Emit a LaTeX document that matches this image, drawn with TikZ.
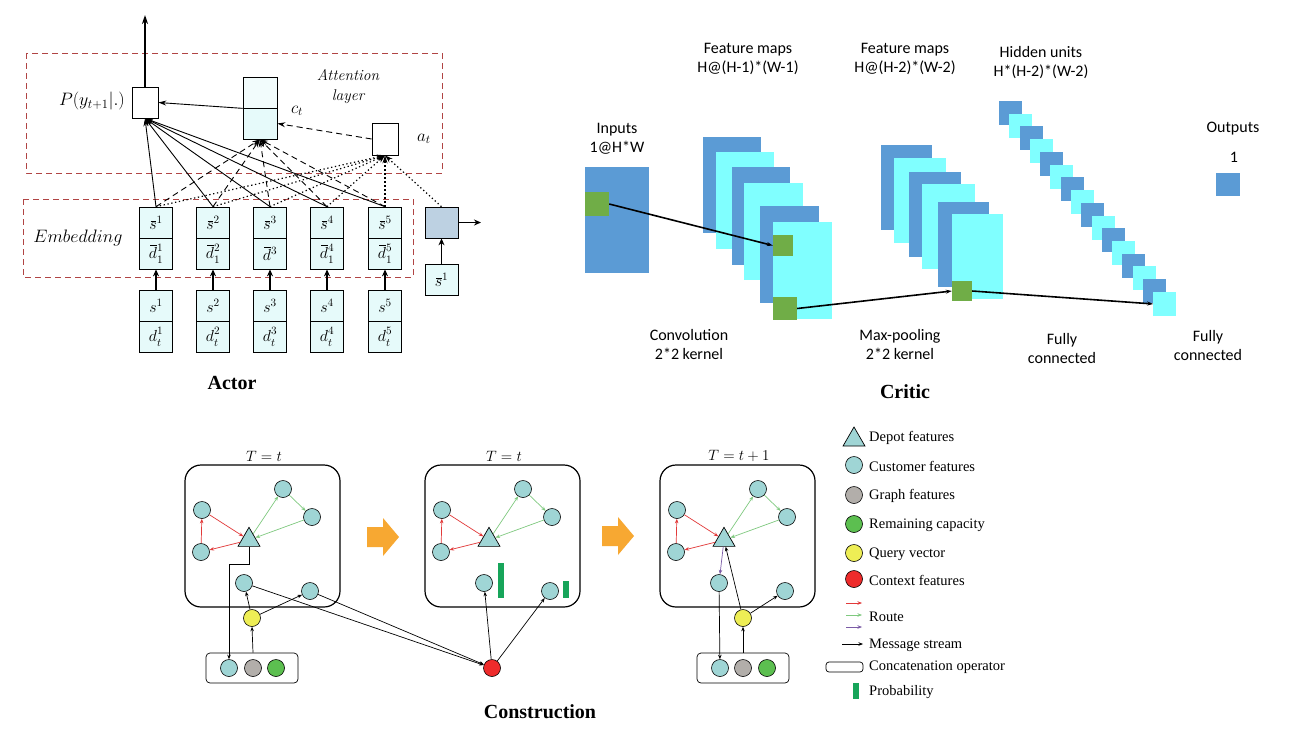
\RequirePackage{fix-cm}
\documentclass[tikz,border=0pt]{standalone}
\usepackage{fontspec}
\usetikzlibrary{arrows.meta,shapes.geometric,calc}
\newfontfamily\carlito{Carlito}
\newfontfamily\libser{Liberation Serif}
\definecolor{boxcyan}{HTML}{E6FAFA}
\definecolor{dred}{HTML}{B04444}
\definecolor{grayblue}{HTML}{BDD1E2}
\definecolor{cblue}{HTML}{5B9BD5}
\definecolor{ccyan}{HTML}{80FFFF}
\definecolor{cgreen}{HTML}{70AD47}
\definecolor{custc}{HTML}{9FD5D5}
\definecolor{graphc}{HTML}{B2AEAA}
\definecolor{remc}{HTML}{5CBF50}
\definecolor{queryc}{HTML}{EEEE55}
\definecolor{ctxc}{HTML}{EE2B2B}
\definecolor{orangec}{HTML}{F7A832}
\definecolor{routered}{HTML}{E23A3A}
\definecolor{routegreen}{HTML}{7FC97F}
\definecolor{routepurple}{HTML}{7B5BA6}
\definecolor{probc}{HTML}{17A55A}
\newcommand{\ob}[1]{\mkern1.5mu\overline{\mkern-1.5mu#1\mkern-0.5mu}\mkern0.5mu}
\newcommand{\supsub}[3]{#1^{\raise1.2pt\hbox{$\scriptstyle #2$}}_{\lower1.2pt\hbox{$\scriptstyle #3$}}}
\tikzset{
  abox/.style={draw, line width=0.7, fill=boxcyan, minimum width=33, minimum height=31, inner sep=0},
  lab/.style={inner sep=0.5, font=\fontsize{16}{18}\selectfont},
  wbox/.style={draw, line width=0.7, fill=white, inner sep=0},
  redbox/.style={draw=dred, line width=0.8, dash pattern=on 6pt off 4pt},
  solidarr/.style={line width=0.9, -{Stealth[length=8pt,width=5pt]}},
  dasharr/.style={line width=0.9, dash pattern=on 6pt off 4pt, -{Stealth[length=8pt,width=5pt]}},
  dotarr/.style={line width=1.2, dash pattern=on 1.3pt off 2.6pt, -{Stealth[length=8pt,width=5pt]}},
  thickarr/.style={line width=1.6, -{Stealth[length=7pt,width=6pt]}},
  critarr/.style={line width=1.6, -{Stealth[length=6pt,width=4pt]}},
  ctext/.style={font=\carlito\fontsize{16}{19}\selectfont, align=center, inner sep=0},
  title/.style={font=\libser\bfseries\fontsize{20}{24}\selectfont, inner sep=0},
  gsq/.style={fill=cgreen, inner sep=0},
  cust/.style={circle, draw, line width=0.6, fill=custc, minimum size=17, inner sep=0},
  graphn/.style={circle, draw, line width=0.6, fill=graphc, minimum size=17, inner sep=0},
  remn/.style={circle, draw, line width=0.6, fill=remc, minimum size=17, inner sep=0},
  queryn/.style={circle, draw, line width=0.6, fill=queryc, minimum size=17, inner sep=0},
  ctxn/.style={circle, draw, line width=0.6, fill=ctxc, minimum size=17, inner sep=0},
  depot/.style={regular polygon, regular polygon sides=3, draw, line width=0.7, fill=custc, minimum size=25.4, inner sep=0},
  panel/.style={draw, line width=1.2, rounded corners=16},
  concat/.style={draw, line width=0.7, rounded corners=4, minimum width=92, minimum height=30, inner sep=0},
  rarr/.style={draw=routered, line width=0.7, -{Stealth[length=4.5pt,width=3.5pt]}},
  garr/.style={draw=routegreen, line width=0.7, -{Stealth[length=4.5pt,width=3.5pt]}},
  parr/.style={draw=routepurple, line width=0.7, -{Stealth[length=4.5pt,width=3.5pt]}},
  msg/.style={draw=black, line width=0.7, -{Stealth[length=4.5pt,width=3.5pt]}},
  legtext/.style={font=\libser\fontsize{14.5}{17}\selectfont, anchor=west, inner sep=0},
}
\newcommand{\panelbase}[4]{%
  \draw[panel] (#2,#3) rectangle ++(155,142);
  \node[font=\fontsize{15}{18}\selectfont] (#1lab) at (#2+79,#3-9) {#4};
  \begin{scope}[shift={(#2,#3)}]
    \node[cust] (#1c1) at (17,45) {};
    \node[cust] (#1c2) at (16,87) {};
    \node[cust] (#1c3) at (98,24) {};
    \node[cust] (#1c4) at (127,52) {};
    \node[depot] (#1t) at (64,75) {};
    \node[cust] (#1c5) at (59,118) {};
    \node[cust] (#1c6) at (125,126) {};
  \end{scope}
  \draw[rarr] (#1c1) -- (#1t);
  \draw[rarr] (#1t) -- (#1c2);
  \draw[rarr] (#1c2) -- (#1c1);
  \draw[garr] (#1t) -- (#1c3);
  \draw[garr] (#1c3) -- (#1c4);
  \draw[garr] (#1c4) -- (#1t);
}
\begin{document}
\begin{tikzpicture}[x=1pt,y=-1pt]
\useasboundingbox (0,0) rectangle (1292,748);
\fill[white] (0,0) rectangle (1292,748);

% ================= ACTOR =================
\draw[redbox] (26,53) rectangle (442,173);
\draw[redbox] (23,199) rectangle (413,277);

\node[wbox, minimum width=26, minimum height=31] (P) at (145,102.5) {};
\node[anchor=east, font=\fontsize{18}{20}\selectfont, inner sep=0] (Plab) at (125,101) {$P(y_{t+1}|.)$};
\node[abox, minimum width=34, fill=boxcyan!50] (ct1) at (260,92.5) {};
\node[abox, minimum width=34] (ct2) at (260,123.5) {};
\node[font=\fontsize{17}{20}\selectfont, inner sep=0] (ctlab) at (297,111) {$c_t$};
\node[wbox, minimum width=26, minimum height=32] (at) at (385,139) {};
\node[font=\fontsize{17}{20}\selectfont, inner sep=0] (atlab) at (424,139) {$a_t$};
\node[font=\itshape\fontsize{15.5}{20}\selectfont, align=center, inner sep=0] (attl) at (348,87) {Attention\\layer};
\node[font=\fontsize{18}{20}\selectfont, inner sep=0] (emb) at (78,238) {$Embedding$};
\coordinate (up) at (145,15);

\foreach \i/\x/\a/\b/\c/\d in {1/156/{\ob{s}^1}/{\supsub{\ob{d}}{1}{1}}/{s^1}/{\supsub{d}{1}{t}},
                               2/213/{\ob{s}^2}/{\supsub{\ob{d}}{2}{1}}/{s^2}/{\supsub{d}{2}{t}},
                               3/270/{\ob{s}^3}/{\ob{d}^3}/{s^3}/{\supsub{d}{3}{t}},
                               4/327/{\ob{s}^4}/{\supsub{\ob{d}}{4}{1}}/{s^4}/{\supsub{d}{4}{t}},
                               5/385/{\ob{s}^5}/{\supsub{\ob{d}}{5}{1}}/{s^5}/{\supsub{d}{5}{t}}} {
  \node[abox] (es\i) at (\x,222.5) {};
  \node[abox] (ed\i) at (\x,253.5) {};
  \node[abox] (ls\i) at (\x,305.5) {};
  \node[abox] (ld\i) at (\x,336.5) {};
  \node[lab] (es\i t) at (es\i) {$\a$};
  \node[lab] (ed\i t) at (ed\i) {$\b$};
  \node[lab] (ls\i t) at (ls\i) {$\c$};
  \node[lab] (ld\i t) at (ld\i) {$\d$};
}
\node[abox, fill=grayblue] (gb) at (441.5,222.5) {};
\node[abox] (sb) at (441.5,279.5) {};
\node[lab] (sbt) at (sb) {$\ob{s}^1$};
\coordinate (gbout) at (481,222.5);

\foreach \i in {1,...,4} {
  \draw[dotarr] (es\i.north) -- (at.south);
}
\draw[dotarr, line width=1.9, dash pattern=on 1.8pt off 2.2pt] (es5.north) -- (at.south);
\draw[dotarr] (gb.north) -- (at.south);
\foreach \i in {1,...,5} {
  \draw[dasharr] (es\i.north) -- (ct2.south);
  \draw[solidarr] (es\i.north) -- (P.south);
  \draw[thickarr] (ls\i.north) -- (ed\i.south);
}
\draw[thickarr] (sb.north) -- (gb.south);
\draw[thickarr] (gb.east) -- (gbout);
\draw[solidarr] (ct1.south west) -- (P.east);
\draw[dasharr] (at.west) -- (ct2.east);
\draw[line width=1.6, -{Stealth[length=9pt,width=6pt]}] (P.north) -- (up);
\node[title] (actor) at (232,383) {Actor};

% ================= CRITIC =================
\fill[cblue] (585,167) rectangle (649,273);
\fill[cblue] (703,137) rectangle (761,233);
\fill[ccyan] (716,152) rectangle (774,249);
\fill[cblue] (732,167) rectangle (790,265);
\fill[ccyan] (744,183) rectangle (803,280);
\fill[cblue] (760,206) rectangle (819,303);
\fill[ccyan] (773,222) rectangle (832,319);
\fill[cblue] (881,145) rectangle (932,230);
\fill[ccyan] (894,158) rectangle (946,243);
\fill[cblue] (909,172) rectangle (961,257);
\fill[ccyan] (922,184) rectangle (975,269);
\fill[cblue] (938,202) rectangle (989,287);
\fill[ccyan] (952,214) rectangle (1003,299);
\foreach \i in {0,...,15} {
  \pgfmathsetmacro{\hx}{999+\i*10.29+11.5}
  \pgfmathsetmacro{\hy}{101+\i*12.73+12}
  \pgfmathtruncatemacro{\hpar}{mod(\i,2)}
  \ifnum\hpar=0
    \node[fill=cblue, inner sep=0, minimum width=23, minimum height=24] (h\i) at (\hx,\hy) {};
  \else
    \node[fill=ccyan, inner sep=0, minimum width=23, minimum height=24] (h\i) at (\hx,\hy) {};
  \fi
}
\node[fill=cblue, inner sep=0, minimum width=24, minimum height=23] (outsq) at (1228,184.5) {};
\node[gsq, minimum width=24, minimum height=24] (g0) at (597,204) {};
\node[gsq, minimum width=20, minimum height=21] (g1) at (783,245.5) {};
\node[gsq, minimum width=24, minimum height=23] (g2) at (785,308.5) {};
\node[gsq, minimum width=20, minimum height=20] (g3) at (962,291) {};
\draw[critarr] (g0.east) -- (g1.west);
\draw[critarr] (g2.east) -- (g3.west);
\draw[critarr] (g3.east) -- (h15.west);

\node[ctext] (t1) at (617,139) {Inputs\\1@H*W};
\node[ctext] (t2) at (748,59) {Feature maps\\H@(H-1)*(W-1)};
\node[ctext] (t3) at (905,59) {Feature maps\\H@(H-2)*(W-2)};
\node[ctext] (t4) at (1041,63) {Hidden units\\H*(H-2)*(W-2)};
\node[ctext] (t5) at (1233,129) {Outputs};
\node[ctext] (t5b) at (1234,157) {1};
\node[ctext] (t6) at (689,344.5) {Convolution\\2*2 kernel};
\node[ctext] (t7) at (900,344.5) {Max-pooling\\2*2 kernel};
\node[ctext] (t8) at (1062,348.5) {Fully\\connected};
\node[ctext] (t9) at (1208,345) {Fully\\connected};
\node[title] (critic) at (905,392) {Critic};

% ================= CONSTRUCTION =================
\panelbase{p1}{185}{465}{$T=t$}
\panelbase{p2}{425}{465}{$T=t$}
\panelbase{p3}{660}{465}{$T=t+1$}

\fill[orangec] (367,527) -- (383,527) -- (383,518) -- (399,537) -- (383,556) -- (383,547) -- (367,547) -- cycle;
\fill[orangec] (602,526) -- (618,526) -- (618,517) -- (634,536) -- (618,555) -- (618,546) -- (602,546) -- cycle;

% panel 1 extras
\node[concat] (p1box) at (252,668) {};
\node[cust] (p1k1) at (229,668) {};
\node[graphn] (p1k2) at (253,668) {};
\node[remn] (p1k3) at (276,668) {};
\node[queryn] (p1y) at (252,618) {};
\draw[msg] (p1t.south) -- ++(0,18) -| (p1k1.north);
\draw[msg] (p1k2 |- p1box.north) -- (p1y.south);
\draw[msg] (p1y) -- (p1c5);
\draw[msg] (p1y) -- (p1c6);

% context
\node[ctxn] (red) at (492,668) {};
\draw[msg] (p1c5) -- (red);
\draw[msg] (p1c6) -- (red);
\draw[msg] (red) -- (p2c5);
\draw[msg] (red) -- (p2c6);

% panel 2 bars
\fill[probc] (498,563) rectangle (504,598);
\fill[probc] (563,581) rectangle (569,598);

% panel 3 extras
\node[concat] (p3box) at (743,668) {};
\node[cust] (p3k1) at (720,668) {};
\node[graphn] (p3k2) at (743,668) {};
\node[remn] (p3k3) at (767,668) {};
\node[queryn] (p3y) at (743,618) {};
\draw[parr] (p3t) -- (p3c5);
\draw[msg] (p3c5) -- (p3k1);
\draw[msg] (p3k2 |- p3box.north) -- (p3y.south);
\draw[msg] (p3y) -- (p3t);
\draw[msg] (p3y) -- (p3c6);

\node[title] (constr) at (540,712) {Construction};

% legend
\node[depot] (lgt) at (854,439.7) {};
\node[cust] (lg1) at (854,465) {};
\node[graphn] (lg2) at (854,495) {};
\node[remn] (lg3) at (854,524) {};
\node[queryn] (lg4) at (854,553) {};
\node[ctxn] (lg5) at (854,579) {};
\node[legtext] (lt0) at (869,438) {Depot features};
\node[legtext] (lt1) at (869,466) {Customer features};
\node[legtext] (lt2) at (869,496) {Graph features};
\node[legtext] (lt3) at (869,525) {Remaining capacity};
\node[legtext] (lt4) at (869,554) {Query vector};
\node[legtext] (lt5) at (869,580) {Context features};
\coordinate (lra) at (846,603); \coordinate (lrb) at (862,603);
\coordinate (lga) at (846,615); \coordinate (lgb) at (862,615);
\coordinate (lpa) at (846,627); \coordinate (lpb) at (862,627);
\coordinate (lma) at (842,644); \coordinate (lmb) at (863,644);
\draw[rarr] (lra) -- (lrb);
\draw[garr] (lga) -- (lgb);
\draw[parr] (lpa) -- (lpb);
\draw[msg] (lma) -- (lmb);
\node[legtext] (lt6) at (869,617) {Route};
\node[legtext] (lt7) at (869,645) {Message stream};
\node[draw, line width=0.7, rounded corners=3, minimum width=37, minimum height=10, inner sep=0] (lgc) at (844.5,667) {};
\node[legtext] (lt8) at (869,667) {Concatenation operator};
\node[fill=probc, minimum width=6, minimum height=16, inner sep=0] (lgp) at (856,691) {};
\node[legtext] (lt9) at (869,692) {Probability};
\end{tikzpicture}
\end{document}
